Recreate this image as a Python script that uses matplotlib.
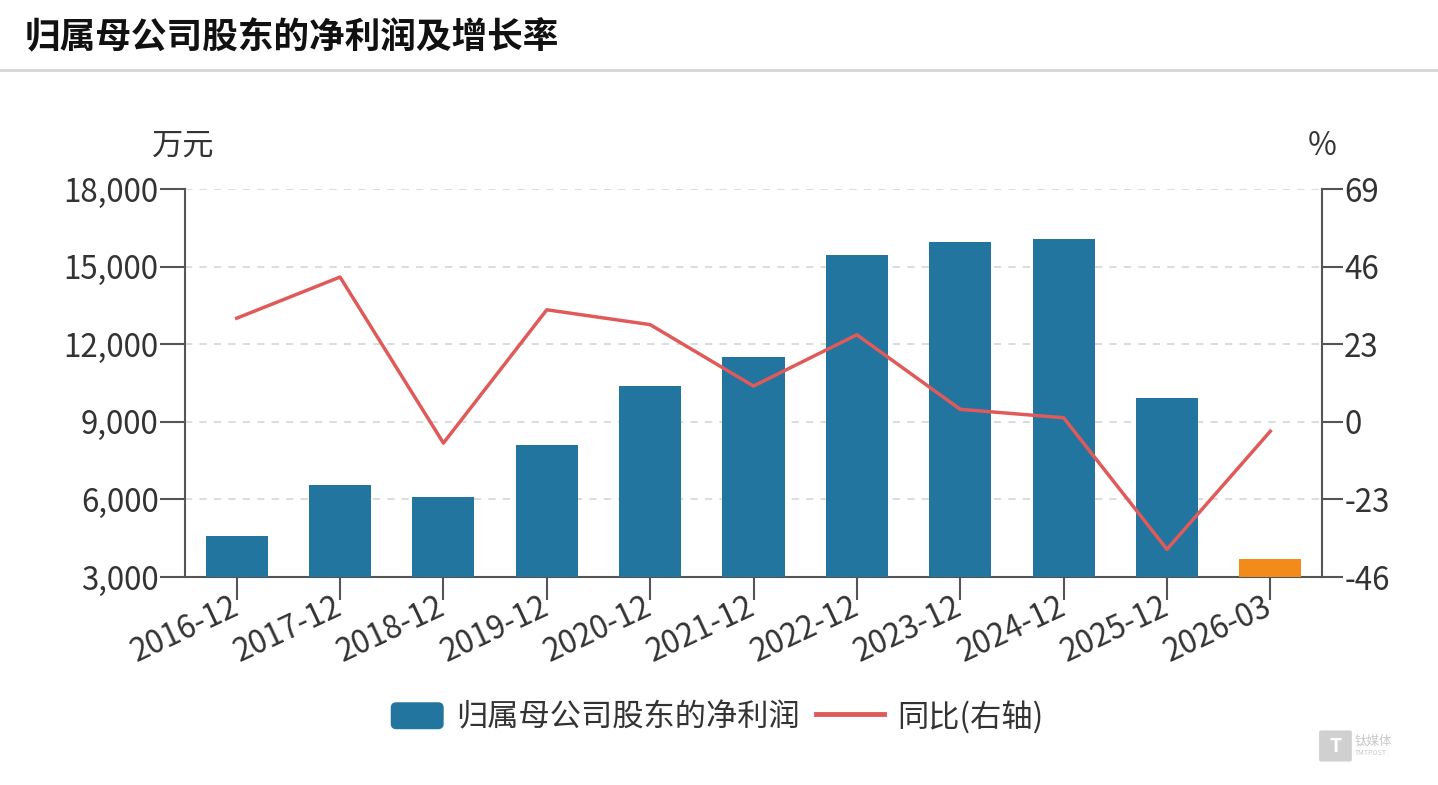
import matplotlib
matplotlib.use('Agg')
import matplotlib.pyplot as plt
from matplotlib.patches import Patch, FancyBboxPatch
from matplotlib.legend_handler import HandlerPatch
from matplotlib.lines import Line2D
import numpy as np

plt.rcParams['font.family'] = ['Noto Sans CJK SC', 'DejaVu Sans']

title = '归属母公司股东的净利润及增长率'
categories = ['2016-12', '2017-12', '2018-12', '2019-12', '2020-12', '2021-12',
              '2022-12', '2023-12', '2024-12', '2025-12', '2026-03']
profit = [4582, 6564, 6109, 8118, 10384, 11488, 15464, 15957, 16085, 9934, 3688]
yoy = [30.7, 42.9, -6.3, 33.2, 28.8, 10.6, 25.8, 3.7, 1.2, -37.8, -2.8]
left_ticks = [3000, 6000, 9000, 12000, 15000, 18000]
right_ticks = [-46, -23, 0, 23, 46, 69]
bar_label = '归属母公司股东的净利润'
line_label = '同比(右轴)'

BLUE = '#21759f'
ORANGE = '#f28b1a'
RED = '#e05a5a'
TXT = '#333333'
SPINE = '#555555'
FS = 22.5

W, H = 1438, 785
fig = plt.figure(figsize=(W / 100, H / 100), dpi=100)
fig.patch.set_facecolor('white')

# title and separator
fig.text(25 / W, 1 - 38 / H, title, fontsize=25.7, fontweight='bold', color='#111111',
         ha='left', va='center')
fig.add_artist(Line2D([0, 1], [1 - 70 / H] * 2, transform=fig.transFigure,
                      color='#d5d5d5', lw=2))

ax = fig.add_axes([185 / W, 1 - 577 / H, (1322 - 185) / W, (577 - 189) / H])
x = np.arange(len(categories))
colors = [BLUE] * (len(categories) - 1) + [ORANGE]
ax.bar(x, profit, width=0.6, color=colors, zorder=3)
ax.set_xlim(-0.5, len(categories) - 0.5)
ax.set_ylim(left_ticks[0], left_ticks[-1])
ax.set_yticks(left_ticks)
ax.set_yticklabels([f'{v:,}' for v in left_ticks])
ax.set_xticks(x)
ax.set_xticklabels(categories, rotation=25, ha='right', va='center', rotation_mode='anchor')
ax.set_axisbelow(True)
ax.yaxis.grid(True, linestyle=(0, (4, 4)), color='#d9d9d9', lw=1.3)
ax.tick_params(axis='y', length=18, width=1.5, color=SPINE, labelsize=FS,
               labelcolor=TXT, pad=1)
ax.tick_params(axis='x', length=16.5, width=1.5, color=SPINE, labelsize=FS,
               labelcolor=TXT, pad=4)
for s in ['top', 'right']:
    ax.spines[s].set_visible(False)
for s in ['left', 'bottom']:
    ax.spines[s].set_color(SPINE)
    ax.spines[s].set_linewidth(1.5)

ax2 = ax.twinx()
ax2.plot(x, yoy, color=RED, lw=2.5, zorder=4)
ax2.set_ylim(right_ticks[0], right_ticks[-1])
ax2.set_yticks(right_ticks)
ax2.set_yticklabels([str(v) for v in right_ticks])
ax2.tick_params(axis='y', length=15, width=1.5, color=SPINE, labelsize=FS,
                labelcolor=TXT, pad=1)
for s in ['top', 'left', 'bottom']:
    ax2.spines[s].set_visible(False)
ax2.spines['right'].set_color(SPINE)
ax2.spines['right'].set_linewidth(1.5)

# unit labels
fig.text(183 / W, 1 - 146 / H, '万元', fontsize=FS, color=TXT, ha='center', va='center')
fig.text(1322 / W, 1 - 146 / H, '%', fontsize=FS, color=TXT, ha='center', va='center')


# legend with rounded, narrower bar swatch
def rounded_swatch(legend, orig_handle, xdescent, ydescent, width, height, fontsize):
    w = width * 0.77
    return FancyBboxPatch((-xdescent + width - w, -ydescent), w, height,
                          boxstyle='round,pad=0,rounding_size=4')


handles = [Patch(facecolor=BLUE, edgecolor='none', label=bar_label),
           Line2D([0], [0], color=RED, lw=3.5, label=line_label)]
fig.legend(handles=handles, loc='center', bbox_to_anchor=(709 / W, 1 - 717 / H),
           ncol=2, frameon=False, fontsize=FS, handlelength=2.2, handleheight=0.95,
           handletextpad=0.4, columnspacing=0.5, labelcolor=TXT, borderpad=0,
           handler_map={Patch: HandlerPatch(patch_func=rounded_swatch)})

# watermark
fig.add_artist(FancyBboxPatch((1322 / W, 1 - 760 / H), 27 / W, 28 / H,
                              boxstyle='round,pad=0.002', transform=fig.transFigure,
                              facecolor='#d0d0d0', edgecolor='none'))
fig.text(1335.5 / W, 1 - 746 / H, 'T', fontsize=14, fontweight='bold', color='white',
         ha='center', va='center')
fig.text(1355 / W, 1 - 741 / H, '钛媒体', fontsize=9, color='#c8c8c8', ha='left', va='center')
fig.text(1355 / W, 1 - 753 / H, 'TMTPOST', fontsize=5, color='#c8c8c8', ha='left', va='center')

fig.savefig('out.png', dpi=100)
